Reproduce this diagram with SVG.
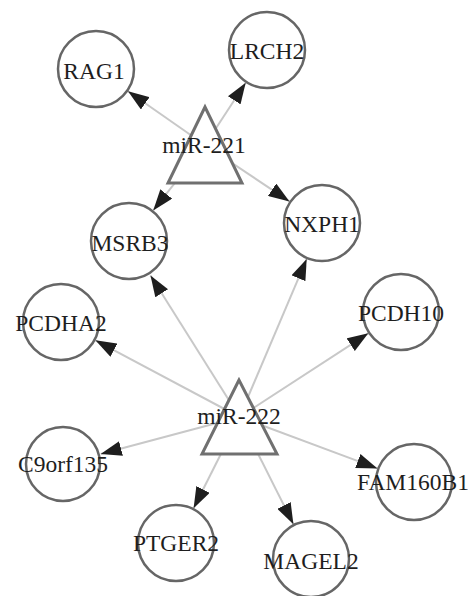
<svg xmlns="http://www.w3.org/2000/svg" width="468" height="596" viewBox="0 0 468 596">
<style>
.edge{stroke:#c8c8c8;stroke-width:2;fill:none;marker-end:url(#arr)}
.gene{fill:#fff;stroke:#666;stroke-width:2.5}
.mir{fill:#fff;stroke:#707070;stroke-width:3}
text{font-family:"Liberation Serif","Times New Roman",serif;font-size:23.5px;fill:#1e1e1e;text-anchor:middle}
</style>
<defs>
<marker id="arr" markerUnits="userSpaceOnUse" markerWidth="21" markerHeight="15" refX="21" refY="7.5" orient="auto" viewBox="0 0 21 15">
<path d="M0,0 L21,7.5 L0,15 z" fill="#1e1e1e"/>
</marker>
</defs>
<rect width="468" height="596" fill="#fff"/>
<g id="connectors">
<line class="edge" x1="205" y1="145" x2="128.0" y2="91.3"/>
<line class="edge" x1="205" y1="145" x2="245.7" y2="82.7"/>
<line class="edge" x1="205" y1="145" x2="153.2" y2="210.4"/>
<line class="edge" x1="205" y1="145" x2="289.5" y2="201.4"/>
<line class="edge" x1="239.5" y1="417" x2="150.5" y2="275.5"/>
<line class="edge" x1="239.5" y1="417" x2="306.7" y2="258.9"/>
<line class="edge" x1="239.5" y1="417" x2="95.4" y2="340.3"/>
<line class="edge" x1="239.5" y1="417" x2="368.3" y2="333.3"/>
<line class="edge" x1="239.5" y1="417" x2="100.7" y2="454"/>
<line class="edge" x1="239.5" y1="417" x2="377.5" y2="468.4"/>
<line class="edge" x1="239.5" y1="417" x2="193.6" y2="508.2"/>
<line class="edge" x1="239.5" y1="417" x2="293.4" y2="524.2"/>
</g>
<g id="RAG1"><circle class="gene" cx="96" cy="69" r="38"/><text x="94" y="79">RAG1</text></g>
<g id="LRCH2"><circle class="gene" cx="267" cy="50" r="38"/><text x="267" y="59">LRCH2</text></g>
<g id="MSRB3"><circle class="gene" cx="129" cy="241" r="38"/><text x="130" y="251">MSRB3</text></g>
<g id="NXPH1"><circle class="gene" cx="322" cy="223" r="38"/><text x="322" y="232">NXPH1</text></g>
<g id="PCDHA2"><circle class="gene" cx="61" cy="322" r="38"/><text x="61" y="331">PCDHA2</text></g>
<g id="PCDH10"><circle class="gene" cx="401" cy="312" r="38"/><text x="401" y="321">PCDH10</text></g>
<g id="C9orf135"><circle class="gene" cx="63" cy="464" r="37"/><text x="63" y="472">C9orf135</text></g>
<g id="FAM160B1"><circle class="gene" cx="414" cy="482" r="38"/><text x="413" y="490">FAM160B1</text></g>
<g id="PTGER2"><circle class="gene" cx="176" cy="543" r="38"/><text x="176" y="551">PTGER2</text></g>
<g id="MAGEL2"><circle class="gene" cx="311" cy="559" r="38"/><text x="311" y="569">MAGEL2</text></g>
<g id="miR-221"><polygon class="mir" points="205,107 168,183 242,183"/><text x="204" y="153">miR-221</text></g>
<g id="miR-222"><polygon class="mir" points="239,380 202,454 277,454"/><text x="239" y="424">miR-222</text></g>
</svg>
